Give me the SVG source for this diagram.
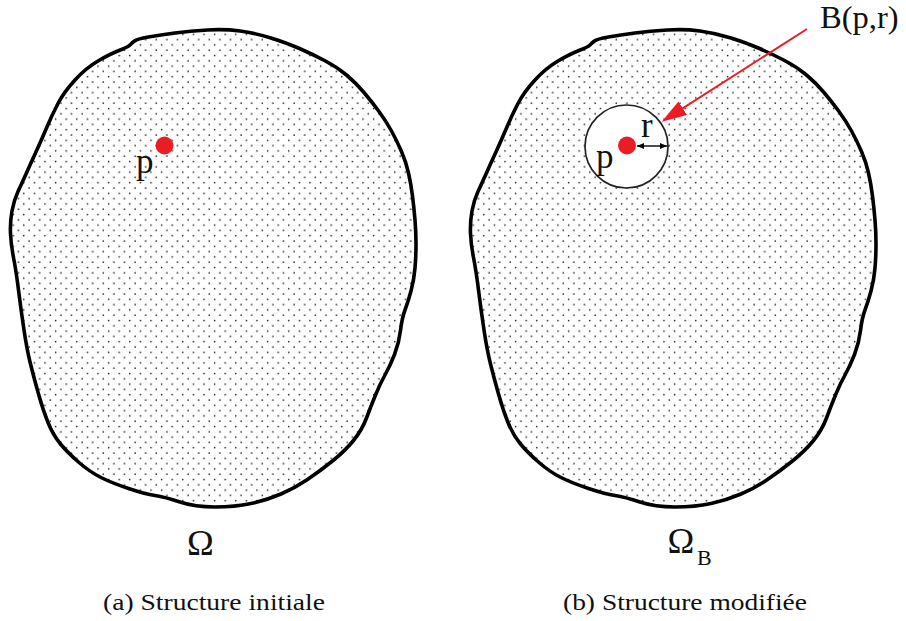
<svg xmlns="http://www.w3.org/2000/svg" width="906" height="621" viewBox="0 0 906 621">
<style>
.domain{fill:url(#dots);stroke:#000;stroke-width:3.6;stroke-linejoin:round}
.lbl{fill:#111;font-family:'Liberation Serif','DejaVu Serif',serif}
.cap{font-size:24px;fill:#111;font-family:'Liberation Serif','DejaVu Serif',serif}
.dot{fill:#ec1c24}
</style>
<defs>
<pattern id="dots" width="10.6" height="10.6" patternUnits="userSpaceOnUse">
<rect width="10.6" height="10.6" fill="#fff"/>
<circle cx="2.6" cy="2.6" r="0.8" fill="#111"/>
<circle cx="7.9" cy="7.9" r="0.8" fill="#111"/>
</pattern>
<path id="blob" d="M134.5,41 Q137,39 148.5,37 Q160,35 175,33 Q190,31 207.5,30 Q225,29 240,31 Q255,33 271,38 Q287,43 299.5,48.5 Q312,54 324.5,60.5 Q337,67 346.5,75 Q356,83 364,92.5 Q372,102 379,111.5 Q386,121 391.5,131 Q397,141 401.5,151.5 Q406,162 408.5,173 Q411,184 412.5,196 Q414,208 415,220 Q416,232 416,244 Q416,256 415,268 Q414,280 411,291 Q408,302 405,310 Q402,318 400.5,330.5 Q399,343 394.5,354.5 Q390,366 385,375 Q380,384 375.5,395 Q371,406 366.5,418 Q362,430 353.5,440.5 Q345,451 332.5,461 Q320,471 307.5,479.5 Q295,488 281,494 Q267,500 251,503.5 Q235,507 215,507 Q195,507 180,502 Q165,497 155,495.5 Q145,494 128.5,488.5 Q112,483 101,477.5 Q90,472 79,462.5 Q68,453 60.5,444 Q53,435 48,422.5 Q43,410 38.5,394 Q34,378 30.5,364 Q27,350 24,330 Q21,310 18.5,290 Q16,270 13.5,257.5 Q11,245 10.5,233.5 Q10,222 12,211 Q14,200 18,191.5 Q22,183 26,174 Q30,165 35.5,153 Q41,141 46.5,128 Q52,115 58,103.5 Q64,92 75,80 Q86,68 98,61 Q110,54 119,50.5 Q128,47 130,45 L132,43 Z"/>
<marker id="redhead" markerUnits="userSpaceOnUse" viewBox="0 0 25 16" markerWidth="25" markerHeight="16" refX="15" refY="8" orient="auto">
<path d="M0,0 L25,8 L0,16 Z" fill="#ec1c24"/>
</marker>
<marker id="blackhead" markerUnits="userSpaceOnUse" viewBox="0 0 7 6" markerWidth="7" markerHeight="6" refX="7" refY="3" orient="auto-start-reverse">
<path d="M0,0 L7,3 L0,6 Z" fill="#000"/>
</marker>
</defs>

<g id="domain-a">
<use href="#blob" class="domain"/>
<circle class="dot" cx="164.5" cy="145.5" r="9"/>
<text class="lbl" x="136" y="173" font-size="35">p</text>
<text class="lbl" x="200.5" y="555" font-size="36" text-anchor="middle">Ω</text>
</g>

<g id="domain-b">
<use href="#blob" class="domain" transform="translate(460,0)"/>
</g>

<g id="ball">
<circle cx="626.5" cy="146.5" r="41.5" fill="#fff" stroke="#222" stroke-width="1.7"/>
<circle class="dot" cx="627" cy="145.5" r="9"/>
<text class="lbl" x="596" y="168" font-size="35">p</text>
<text class="lbl" x="641" y="137" font-size="35">r</text>
</g>

<g id="labels">
<text class="lbl" x="820" y="28" font-size="32.5">B(p,r)</text>
<text class="lbl" x="681" y="553" font-size="36" text-anchor="middle">Ω</text>
<text class="lbl" x="697" y="565" font-size="22">B</text>
<text class="cap" x="103" y="610" textLength="222" lengthAdjust="spacingAndGlyphs">(a)  Structure initiale</text>
<text class="cap" x="563" y="610" textLength="244" lengthAdjust="spacingAndGlyphs">(b)  Structure modifiée</text>
</g>

<g id="connectors">
<line x1="807" y1="29" x2="670.1" y2="116.3" stroke="#ec1c24" stroke-width="2" marker-end="url(#redhead)"/>
<line x1="637" y1="146" x2="667" y2="146" stroke="#000" stroke-width="1.4" marker-start="url(#blackhead)" marker-end="url(#blackhead)"/>
</g>
</svg>
